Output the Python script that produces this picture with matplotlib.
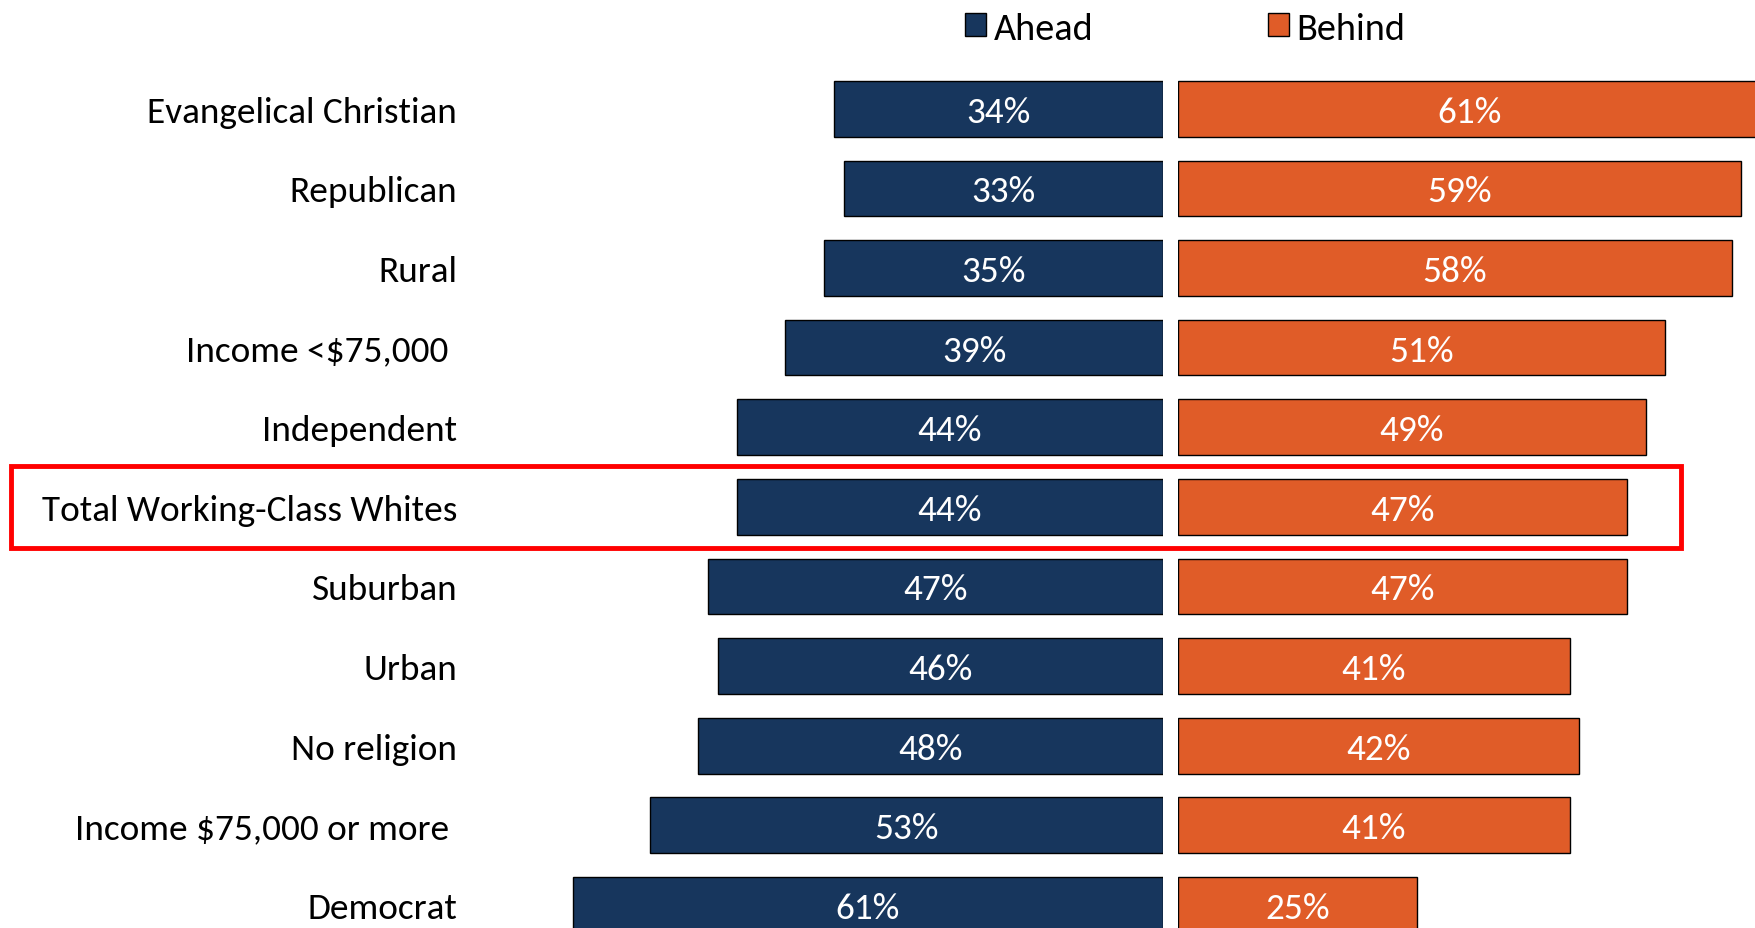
import matplotlib
matplotlib.use("Agg")
import matplotlib.pyplot as plt
from matplotlib import font_manager
from matplotlib.patches import Patch, Rectangle
import matplotlib.transforms as mtransforms

# ---- data ----
categories = ["Evangelical Christian", "Republican", "Rural", "Income <$75,000 ",
              "Independent", "Total Working-Class Whites", "Suburban", "Urban",
              "No religion", "Income $75,000 or more ", "Democrat"]
ahead = [34, 33, 35, 39, 44, 44, 47, 46, 48, 53, 61]
behind = [61, 59, 58, 51, 49, 47, 47, 41, 42, 41, 25]
series_names = ["Ahead", "Behind"]
highlight = "Total Working-Class Whites"

# ---- style ----
avail = {f.name for f in font_manager.fontManager.ttflist}
fam = [f for f in ["Carlito", "Liberation Sans Narrow", "Open Sans", "DejaVu Sans"] if f in avail]
plt.rcParams["font.family"] = fam
NAVY = "#17365D"
ORANGE = "#E05C28"
FS = 26.8
FS_LEG = 27.5

W, H = 1756, 929
fig = plt.figure(figsize=(W / 100, H / 100), dpi=100)
fig.patch.set_facecolor("white")

axL = fig.add_axes([460 / W, 0, (1163 - 460) / W, 1])
axR = fig.add_axes([1178 / W, 0, (W - 1178) / W, 1])
axL.set_xlim((1163 - 460) / 9.68, 0)
axR.set_xlim(0, (W - 1178) / 9.55)

y = list(range(len(categories)))
for ax in (axL, axR):
    ax.set_ylim(10.29, -1.379)
    for s in ax.spines.values():
        s.set_visible(False)
    ax.set_xticks([])
    ax.patch.set_alpha(0)

axR.set_yticks([])
axL.set_yticks(y)
axL.set_yticklabels(categories, fontsize=FS)
axL.tick_params(axis="y", length=0, pad=2)

bh = 0.70
axL.barh(y, ahead, height=bh, color=NAVY, edgecolor="black", linewidth=1.0)
axR.barh(y, behind, height=bh, color=ORANGE, edgecolor="black", linewidth=1.0)

for i, (a, b) in enumerate(zip(ahead, behind)):
    axL.text(a / 2, i, f"{a}%", ha="center", va="center_baseline", color="white", fontsize=FS)
    axR.text(b / 2, i, f"{b}%", ha="center", va="center_baseline", color="white", fontsize=FS)

# highlight box
hi = categories.index(highlight)
tr = mtransforms.blended_transform_factory(fig.transFigure, axL.transData)
box = Rectangle((11 / W, hi + 0.515), (1681 - 11) / W, -1.03, transform=tr,
                fill=False, edgecolor="#FF0000", linewidth=3.5, clip_on=False)
fig.patches.append(box)

# legend
for name, col, xpx in [(series_names[0], NAVY, 965), (series_names[1], ORANGE, 1268)]:
    fig.legend(handles=[Patch(facecolor=col, edgecolor="black", linewidth=1.0, label=name)],
               loc="center left", bbox_to_anchor=(xpx / W, 1 - 29 / H),
               frameon=False, fontsize=FS_LEG, borderpad=0, borderaxespad=0,
               handlelength=0.55, handleheight=0.55, handletextpad=0.2)

fig.savefig("out.png", dpi=100)
